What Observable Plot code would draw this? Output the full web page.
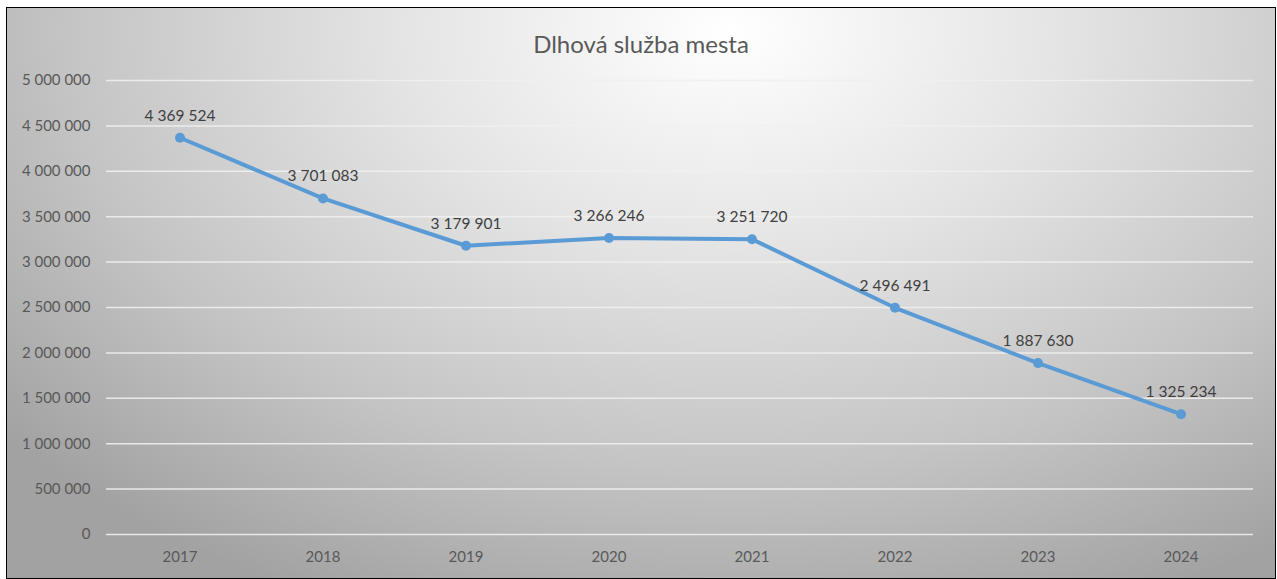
<!DOCTYPE html>
<html><head><meta charset="utf-8">
<script src="https://cdn.jsdelivr.net/npm/d3@7"></script>
<script src="https://cdn.jsdelivr.net/npm/@observablehq/plot@0.6"></script>
<style>
html,body{margin:0;padding:0;background:#fff;}
#frame{position:absolute;left:6px;top:7px;width:1270px;height:572px;border:1px solid #000;box-sizing:border-box;
background:radial-gradient(ellipse 75% 110% at 57% 4%, #ffffff 0%, #e4e4e4 35%, #c4c4c4 70%, #a2a2a2 100%);overflow:hidden;}
#title{position:absolute;left:0;width:100%;top:21px;text-align:center;font-family:Lato,"Open Sans",sans-serif;font-size:24px;color:#595959;}
#chart{position:absolute;left:0;top:0;}
</style></head>
<body>
<div id="frame"><div id="chart"></div><div id="title">Dlhová služba mesta</div></div>
<script>
const years = ["2017","2018","2019","2020","2021","2022","2023","2024"];
const values = [4369524, 3701083, 3179901, 3266246, 3251720, 2496491, 1887630, 1325234];
const yTicks = [0,500000,1000000,1500000,2000000,2500000,3000000,3500000,4000000,4500000,5000000];

const fmt = v => d3.format(",")(v).replace(/,/g, " ");
const data = years.map((y, i) => ({year: y, value: values[i]}));

const chart = Plot.plot({
  width: 1268, height: 570,
  marginLeft: 99, marginRight: 22, marginTop: 72, marginBottom: 44,
  style: {background: "transparent", fontFamily: "Lato, 'Open Sans', sans-serif", fontSize: "15px", color: "#595959"},
  x: {type: "band", domain: years, padding: 0, label: null, tickSize: 0, tickPadding: 14},
  y: {domain: [0, 5000000], ticks: yTicks, tickFormat: fmt, label: null, tickSize: 0, tickPadding: 16},
  marks: [
    Plot.ruleY(yTicks, {stroke: "#f0f0f0", strokeWidth: 1.5, strokeOpacity: 0.9}),
    Plot.axisX({tickSize: 0, tickPadding: 17, fill: "#595959", fontSize: 15}),
    Plot.axisY({ticks: yTicks, tickFormat: fmt, tickSize: 0, tickPadding: 16, fill: "#595959", fontSize: 15}),
    Plot.line(data, {x: "year", y: "value", stroke: "#5B9BD5", strokeWidth: 4, strokeLinecap: "round", strokeLinejoin: "round"}),
    Plot.dot(data, {x: "year", y: "value", fill: "#5B9BD5", r: 5}),
    Plot.text(data, {x: "year", y: "value", text: d => fmt(d.value), dy: -22, fill: "#404040", fontSize: 15.5})
  ]
});
document.getElementById("chart").appendChild(chart);
</script>
</body></html>
